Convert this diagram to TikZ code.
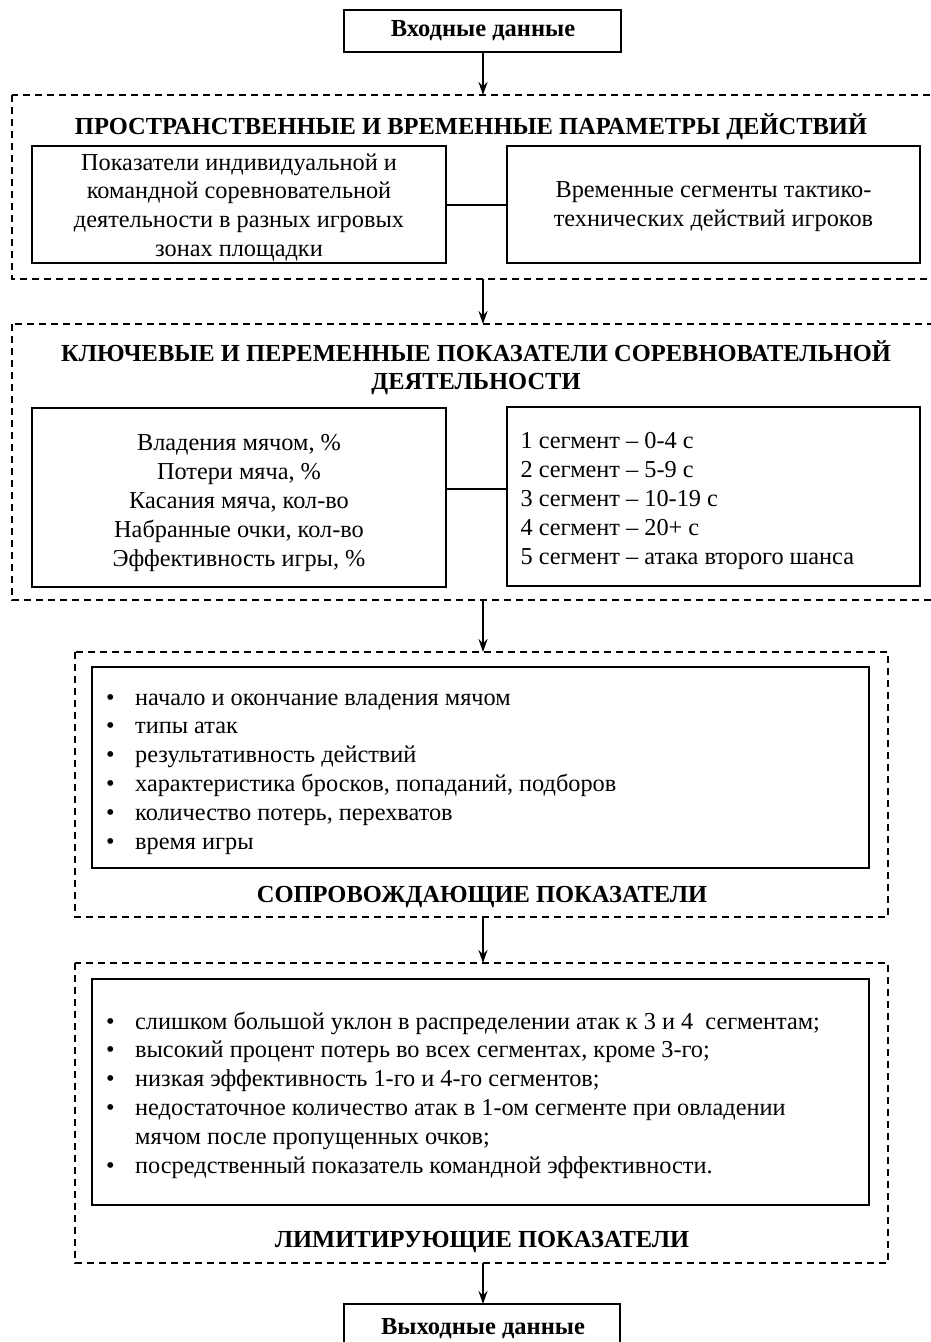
\documentclass[tikz,border=0pt]{standalone}
\usepackage{fontspec}
\setmainfont{Liberation Serif}
\usetikzlibrary{arrows.meta}
\newcommand{\bul}{\makebox[29pt][l]{•}}
\tikzset{
  x=1pt,y=-1pt,
  solidbox/.style={draw,line width=2pt,inner sep=0pt},
  dashbox/.style={draw,line width=1.6pt,dash pattern=on 7pt off 5pt},
  body/.style={font=\fontsize{24.3}{28.8}\selectfont},
  ttl/.style={font=\fontsize{24.5}{28}\selectfont\bfseries},
  arr/.style={line width=2pt,-{Stealth[length=13pt,width=9pt]}},
  link/.style={line width=2.5pt},
}
\begin{document}
\begin{tikzpicture}
\useasboundingbox (0,0) rectangle (931,1342);
% input
\draw[solidbox] (344,10) rectangle (621,52);
\node[ttl] (in) at (483,31) {Входные данные};
\coordinate (inb) at (483,52);
% block 1
\draw[dashbox] (12,95) rectangle (935,279);
\coordinate (d1t) at (483,95);
\coordinate (d1b) at (483,279);
\node[ttl] (t1) at (471,127) {ПРОСТРАНСТВЕННЫЕ И ВРЕМЕННЫЕ ПАРАМЕТРЫ ДЕЙСТВИЙ};
\draw[solidbox] (32,146) rectangle (446,263);
\node[body,align=center] (a1) at (239,207.5) {Показатели индивидуальной и\\командной соревновательной\\деятельности в разных игровых\\зонах площадки};
\draw[solidbox] (507,146) rectangle (920,263);
\node[body,align=center] (b1) at (713.5,207) {Временные сегменты тактико-\\технических действий игроков};
\coordinate (a1r) at (446,205);
\coordinate (b1l) at (507,205);
\draw[link] (a1r) -- (b1l);
\draw[arr] (inb) -- (d1t);
% block 2
\draw[dashbox] (12,324) rectangle (935,600);
\coordinate (d2t) at (483,324);
\coordinate (d2b) at (483,600);
\node[ttl,align=center] (t2) at (476,368) {КЛЮЧЕВЫЕ И ПЕРЕМЕННЫЕ ПОКАЗАТЕЛИ СОРЕВНОВАТЕЛЬНОЙ\\ДЕЯТЕЛЬНОСТИ};
\draw[solidbox] (32,408) rectangle (446,587);
\node[body,align=center] (a2) at (239,503) {Владения мячом, \%\\Потери мяча, \%\\Касания мяча, кол-во\\Набранные очки, кол-во\\Эффективность игры, \%};
\draw[solidbox] (507,407) rectangle (920,586);
\node[body,align=left,anchor=west] (b2) at (517,501) {1 сегмент – 0-4 с\\2 сегмент – 5-9 с\\3 сегмент – 10-19 с\\4 сегмент – 20+ с\\5 сегмент – атака второго шанса};
\coordinate (a2r) at (446,489);
\coordinate (b2l) at (507,489);
\draw[link] (a2r) -- (b2l);
\draw[arr] (d1b) -- (d2t);
% block 3
\draw[dashbox] (75,652) rectangle (888,917);
\coordinate (d3t) at (483,652);
\coordinate (d3b) at (483,917);
\draw[solidbox] (92,667) rectangle (869,868);
\node[body,align=left,anchor=west,inner sep=0pt] (c3) at (106,774) {\bul начало и окончание владения мячом\\
\bul типы атак\\
\bul результативность действий\\
\bul характеристика бросков, попаданий, подборов\\
\bul количество потерь, перехватов\\
\bul время игры};
\node[ttl] (t3) at (482,897) {СОПРОВОЖДАЮЩИЕ ПОКАЗАТЕЛИ};
\draw[arr] (d2b) -- (d3t);
% block 4
\draw[dashbox] (75,963) rectangle (888,1263);
\coordinate (d4t) at (483,963);
\coordinate (d4b) at (483,1263);
\draw[solidbox] (92,979) rectangle (869,1205);
\node[body,align=left,anchor=west,inner sep=0pt] (c4) at (106,1095) {\bul слишком большой уклон в распределении атак к 3 и 4\ \ сегментам;\\
\bul высокий процент потерь во всех сегментах, кроме 3-го;\\
\bul низкая эффективность 1-го и 4-го сегментов;\\
\bul недостаточное количество атак в 1-ом сегменте при овладении\\
\hspace*{29pt}мячом после пропущенных очков;\\
\bul посредственный показатель командной эффективности.};
\node[ttl] (t4) at (482,1242) {ЛИМИТИРУЮЩИЕ ПОКАЗАТЕЛИ};
\draw[arr] (d3b) -- (d4t);
% output
\draw[solidbox] (344,1304) rectangle (620,1360);
\node[ttl] (out) at (483,1329) {Выходные данные};
\coordinate (outt) at (483,1304);
\draw[arr] (d4b) -- (outt);
\end{tikzpicture}
\end{document}
